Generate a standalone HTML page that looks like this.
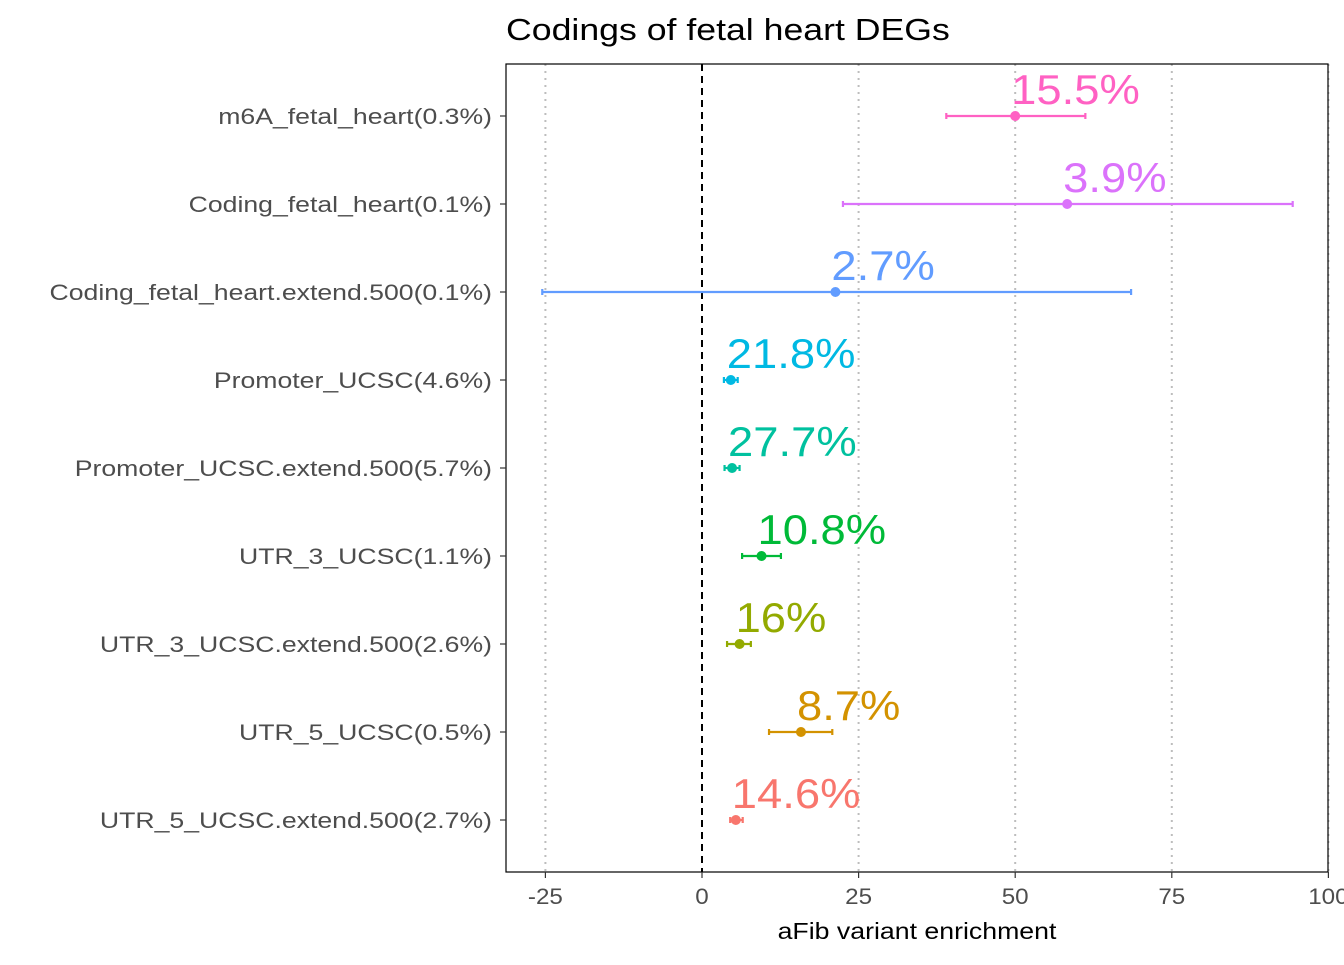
<!DOCTYPE html>
<html><head><meta charset="utf-8"><style>
body{margin:0;background:#fff;font-family:"Liberation Sans",sans-serif;}
</style></head><body>
<svg id="chart" width="1344" height="960" xmlns="http://www.w3.org/2000/svg">
<text x="506" y="40" font-size="31" fill="#000" data-sx="1.15">Codings of fetal heart DEGs</text>
<g id="grid"></g>
<g id="marks"></g>
<rect x="506" y="64" width="822" height="808" fill="none" stroke="#000" stroke-width="1.2"/>
<g id="axes"></g>
<text x="917" y="939" font-size="23" text-anchor="middle" fill="#000" data-sx="1.16">aFib variant enrichment</text>
</svg>
<script>
const categories=["m6A_fetal_heart(0.3%)","Coding_fetal_heart(0.1%)","Coding_fetal_heart.extend.500(0.1%)","Promoter_UCSC(4.6%)","Promoter_UCSC.extend.500(5.7%)","UTR_3_UCSC(1.1%)","UTR_3_UCSC.extend.500(2.6%)","UTR_5_UCSC(0.5%)","UTR_5_UCSC.extend.500(2.7%)"];
const estimates=[50,58.3,21.3,4.6,4.8,9.5,6,15.8,5.4];
const lower=[39,22.5,-25.5,3.5,3.6,6.4,4,10.7,4.5];
const upper=[61.2,94.3,68.5,5.7,6.0,12.6,7.8,20.8,6.5];
const pctLabels=["15.5%","3.9%","2.7%","21.8%","27.7%","10.8%","16%","8.7%","14.6%"];
const colors=["#FF61C3","#DB72FB","#619CFF","#00B9E3","#00C19F","#00BA38","#93AA00","#D39200","#F8766D"];
const xTicks=[-25,0,25,50,75,100];
const NS="http://www.w3.org/2000/svg";
const X=v=>702+v*6.264;
const Y=i=>116+i*88;
function mk(tag,attrs,parent,txt){const e=document.createElementNS(NS,tag);for(const k in attrs)e.setAttribute(k,attrs[k]);if(txt!==undefined)e.textContent=txt;parent.appendChild(e);return e;}
const grid=document.getElementById('grid'),marks=document.getElementById('marks'),axes=document.getElementById('axes');
xTicks.forEach(t=>{
  if(t!==0){const l=mk('line',{x1:X(t),x2:X(t),y1:64,y2:872,stroke:'#bdbdbd','stroke-width':2,'stroke-dasharray':'2,5'},grid);
  
  }
  const tk=mk('line',{x1:X(t),x2:X(t),y1:872,y2:878,stroke:'#333','stroke-width':1.2},axes);
  
  
  const tl=mk('text',{x:X(t),y:904,'font-size':22,'text-anchor':'middle',fill:'#4d4d4d','data-sx':1.1},axes,String(t));
  
  
});
const z=mk('line',{x1:X(0),x2:X(0),y1:64,y2:872,stroke:'#000','stroke-width':2,'stroke-dasharray':'7,5'},grid);


categories.forEach((c,i)=>{
  const y=Y(i),col=colors[i];
  const tk=mk('line',{x1:500,x2:506,y1:y,y2:y,stroke:'#333','stroke-width':1.2},axes);
  
  
  const tl=mk('text',{x:492,y:y+8,'font-size':22,'text-anchor':'end',fill:'#4d4d4d','data-sx':1.21},axes,c);
  
  
  const g=mk('g',{},marks);
  
  
  const eb=mk('line',{x1:X(lower[i]),x2:X(upper[i]),y1:y,y2:y,stroke:col,'stroke-width':2.2},g);
  
  
  [lower[i],upper[i]].forEach(v=>{const cp=mk('line',{x1:X(v),x2:X(v),y1:y-3,y2:y+3,stroke:col,'stroke-width':2.2},g);
    
    });
  const pt=mk('circle',{cx:X(estimates[i]),cy:y,r:5,fill:col},g);
  
  
  const lb=mk('text',{x:X(estimates[i])-4,y:y-12,'font-size':42,fill:col,'data-sx':1.08},g,pctLabels[i]);
  
  
});
document.querySelectorAll('text[data-sx]').forEach(t=>{
  const w=t.getComputedTextLength()*parseFloat(t.getAttribute('data-sx'));
  t.setAttribute('textLength',w);
  t.setAttribute('lengthAdjust','spacingAndGlyphs');
});
</script>
</body></html>
